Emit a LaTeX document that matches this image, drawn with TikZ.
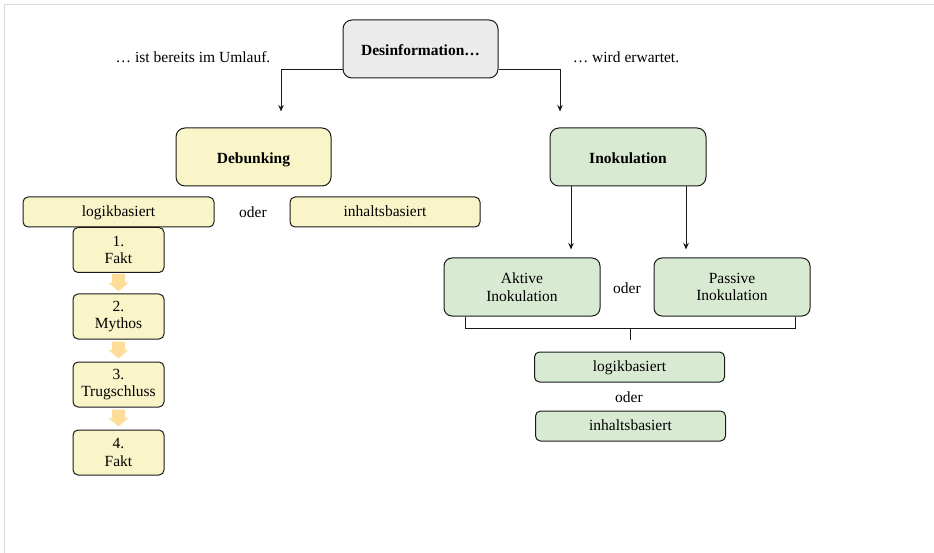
\documentclass[tikz,border=0pt]{standalone}
\usepackage{fontspec}
\setmainfont{Liberation Serif}
\usetikzlibrary{calc,arrows.meta}
\definecolor{ygold}{HTML}{FAF5C8}
\definecolor{gmint}{HTML}{D9EAD3}
\definecolor{gbox}{HTML}{EBEBEB}
\definecolor{oarrow}{HTML}{FEDC9A}
\definecolor{frame}{HTML}{D9D9D9}
\tikzset{
  base/.style={draw=black!90, line width=1pt, inner sep=0pt, align=center,
    font=\fontsize{15.5}{17.5}\selectfont},
  bigbox/.style={base, rounded corners=9pt, minimum width=155pt, minimum height=58pt,
    font=\fontsize{15.5}{17.5}\selectfont\bfseries, text height=13pt, text depth=0pt},
  midbox/.style={base, rounded corners=8pt, minimum width=156pt, minimum height=58pt},
  smallbox/.style={base, rounded corners=5pt, minimum width=190pt, minimum height=30pt,
    text height=12pt, text depth=3pt},
  stepbox/.style={base, rounded corners=5pt, minimum width=91pt, minimum height=45pt},
  plain/.style={inner sep=0pt, font=\fontsize{15.5}{17.5}\selectfont},
  conn/.style={line width=1pt, draw=black!90},
  arr/.style={conn, -{Stealth[length=6.5pt,width=5.5pt]}},
}
\begin{document}
\begin{tikzpicture}[x=1pt,y=-1pt]
\useasboundingbox (0,0) rectangle (934,553);
\draw[frame, line width=1.5pt] (4.5,553) -- (4.5,4.5) -- (934,4.5);

\node[bigbox, fill=gbox] (des) at (420.5,49) {Desinformation…};
\node[plain] (umlauf) at (193,57) {… ist bereits im Umlauf.};
\node[plain] (erw) at (626,57) {… wird erwartet.};

\node[bigbox, fill=ygold, minimum width=155pt] (deb) at (253.5,157) {Debunking};
\node[bigbox, fill=gmint, minimum width=156pt] (ino) at (628,157) {Inokulation};

\draw[arr, shorten >=16pt] (des.west |- 0,70) -| (deb.north -| 281,0);
\draw[arr, shorten >=16pt] (des.east |- 0,70) -| (ino.north -| 560,0);

% Debunking branch
\node[smallbox, fill=ygold, minimum width=191pt] (logL) at (118.5,212) {logikbasiert};
\node[plain] (oderL) at (253,212) {oder};
\node[smallbox, fill=ygold] (inhL) at (385,212) {inhaltsbasiert};

\node[stepbox, fill=ygold, anchor=north] (s1) at (118.5,227) {1.\\Fakt};
\node[stepbox, fill=ygold] (s2) at (118.5,316.5) {2.\\Mythos};
\node[stepbox, fill=ygold] (s3) at (118.5,384.5) {3.\\Trugschluss};
\node[stepbox, fill=ygold] (s4) at (118.5,452.5) {4.\\Fakt};

\foreach \a/\b in {s1/s2, s2/s3, s3/s4}{
  \coordinate (m) at ($(\a.south)!0.5!(\b.north)$);
  \fill[oarrow] ($(m)+(-6.5,-9)$) -- ($(m)+(6.5,-9)$) -- ($(m)+(6.5,-0.5)$) -- ($(m)+(10,-0.5)$)
     -- ($(m)+(0,8)$) -- ($(m)+(-10,-0.5)$) -- ($(m)+(-6.5,-0.5)$) -- cycle;
}

% Inokulation branch
\node[midbox, fill=gmint] (akt) at (522,287) {Aktive\\Inokulation};
\node[plain] (oderM) at (627,288) {oder};
\node[midbox, fill=gmint] (pas) at (732,287) {Passive\\Inokulation};

\draw[arr, shorten >=8pt] (ino.south -| 571,0) -- (akt.north -| 571,0);
\draw[arr, shorten >=8pt] (ino.south -| 686,0) -- (pas.north -| 686,0);

\node[smallbox, fill=gmint] (logR) at (629.5,367) {logikbasiert};
\node[plain] (oderR) at (629,397) {oder};
\node[smallbox, fill=gmint] (inhR) at (630.5,426) {inhaltsbasiert};

\coordinate (br) at (630,328);
\draw[conn] (akt.south -| 465,0) -- (465,328) -- (795,328) -- (pas.south -| 795,0);
\draw[conn] (br) -- (630,340);
\end{tikzpicture}
\end{document}
